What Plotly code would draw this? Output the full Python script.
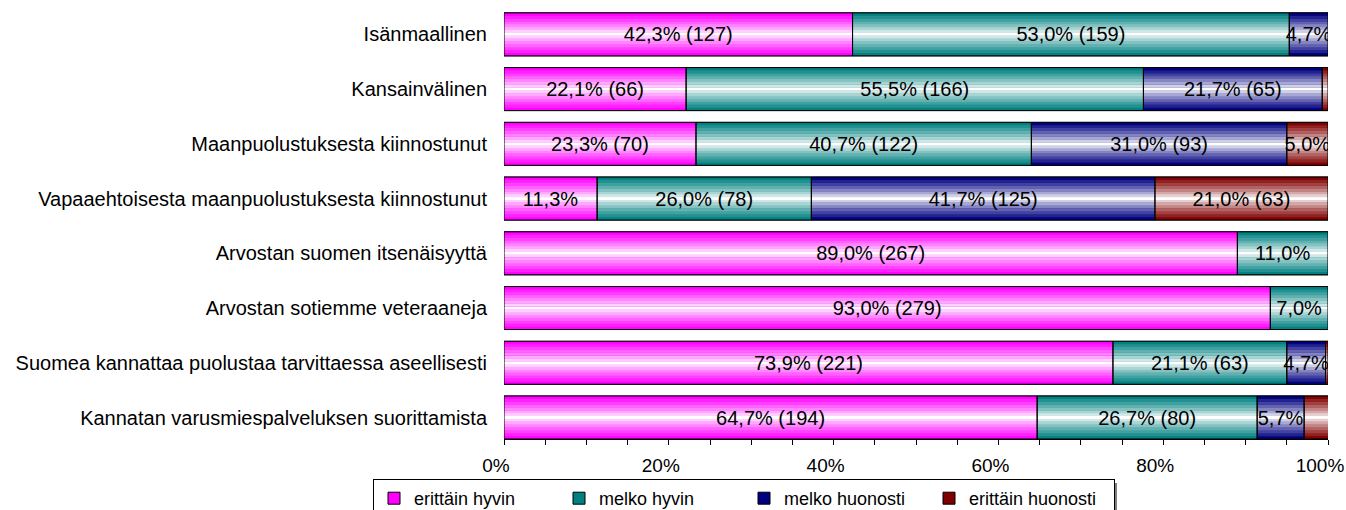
import plotly.graph_objects as go

# ---------------- data ----------------
categories = [
    "Isänmaallinen",
    "Kansainvälinen",
    "Maanpuolustuksesta kiinnostunut",
    "Vapaaehtoisesta maanpuolustuksesta kiinnostunut",
    "Arvostan suomen itsenäisyyttä",
    "Arvostan sotiemme veteraaneja",
    "Suomea kannattaa puolustaa tarvittaessa aseellisesti",
    "Kannatan varusmiespalveluksen suorittamista",
]
series_names = ["erittäin hyvin", "melko hyvin", "melko huonosti", "erittäin huonosti"]

erittain_hyvin_pct = [42.3, 22.1, 23.3, 11.3, 89.0, 93.0, 73.9, 64.7]
erittain_hyvin_n = [127, 66, 70, 34, 267, 279, 221, 194]
melko_hyvin_pct = [53.0, 55.5, 40.7, 26.0, 11.0, 7.0, 21.1, 26.7]
melko_hyvin_n = [159, 166, 122, 78, 33, 21, 63, 80]
melko_huonosti_pct = [4.7, 21.7, 31.0, 41.7, 0.0, 0.0, 4.7, 5.7]
melko_huonosti_n = [14, 65, 93, 125, 0, 0, 14, 17]
erittain_huonosti_pct = [0.0, 0.7, 5.0, 21.0, 0.0, 0.0, 0.3, 3.0]
erittain_huonosti_n = [0, 2, 15, 63, 0, 0, 1, 9]

x_tick_values = [0, 20, 40, 60, 80, 100]
x_tick_labels = ["0%", "20%", "40%", "60%", "80%", "100%"]

# ---------------- style ----------------
colors = ["#FF00FF", "#008080", "#000080", "#800000"]
FONT = "Liberation Sans, Arial, sans-serif"
BAR_W = 0.785
N_STRIPS = 15

W, H = 1346, 510
M_L, M_R, M_T, M_B = 504, 18, 7, 71

pcts = [erittain_hyvin_pct, melko_hyvin_pct, melko_huonosti_pct, erittain_huonosti_pct]
counts = [erittain_hyvin_n, melko_hyvin_n, melko_huonosti_n, erittain_huonosti_n]

n_cat = len(categories)
ypos = [n_cat - 1 - i for i in range(n_cat)]  # first category on top


def hex_rgb(h):
    h = h.lstrip("#")
    return tuple(int(h[i:i + 2], 16) for i in (0, 2, 4))


def shade(hexcol, f):
    r, g, b = hex_rgb(hexcol)
    return "rgb(%d,%d,%d)" % (
        round(255 + (r - 255) * f),
        round(255 + (g - 255) * f),
        round(255 + (b - 255) * f),
    )


def fmt_label(p, n):
    s = ("%.1f" % p).replace(".", ",") + "%"
    if p >= 20:
        return "%s (%d)" % (s, n)
    if p >= 4:
        return s
    return ""


# cumulative bases
bases = []
running = [0.0] * n_cat
for vals in pcts:
    bases.append(list(running))
    running = [running[i] + vals[i] for i in range(n_cat)]

fig = go.Figure()

# solid underlay (also provides legend entries)
for s, name in enumerate(series_names):
    xs = [v if v > 0 else None for v in pcts[s]]
    fig.add_trace(go.Bar(
        name=name, orientation="h", y=ypos, x=xs, base=bases[s],
        width=BAR_W, marker=dict(color=colors[s], line=dict(color="black", width=1)),
        hoverinfo="skip", showlegend=True,
    ))

# gradient strips
for s, name in enumerate(series_names):
    xs = [v if v > 0 else None for v in pcts[s]]
    for k in range(N_STRIPS):
        t = abs(2 * (k + 0.5) / N_STRIPS - 1)
        fig.add_trace(go.Bar(
            orientation="h", y=ypos, x=xs, base=bases[s],
            width=BAR_W / N_STRIPS + 0.004,
            offset=-BAR_W / 2 + k * BAR_W / N_STRIPS,
            marker=dict(color=shade(colors[s], min(1.0, t ** 0.85 * 1.05)), line=dict(width=0)),
            hoverinfo="skip", showlegend=False,
        ))

# outlines + labels
for s, name in enumerate(series_names):
    xs = [v if v > 0 else None for v in pcts[s]]
    labels = [fmt_label(p, n) for p, n in zip(pcts[s], counts[s])]
    fig.add_trace(go.Bar(
        orientation="h", y=ypos, x=xs, base=bases[s], width=BAR_W,
        marker=dict(color="rgba(0,0,0,0)", line=dict(color="black", width=1)),
        text=labels, textposition="inside", insidetextanchor="middle",
        constraintext="none", textangle=0,
        insidetextfont=dict(family=FONT, size=20, color="black"),
        hoverinfo="skip", showlegend=False,
    ))

# legend shadow (pixel positions converted to paper coordinates)
pw = W - M_L - M_R
ph = H - M_T - M_B


def px_x(px):
    return (px - M_L) / pw


def px_y(py):
    return (H - M_B - py) / ph


LEG_TOP = 479
fig.add_shape(
    type="rect", xref="paper", yref="paper",
    x0=px_x(377), x1=px_x(1117), y0=px_y(530), y1=px_y(LEG_TOP + 4),
    fillcolor="#7f7f7f", line=dict(width=0), layer="above",
)

fig.update_layout(
    width=W, height=H,
    barmode="overlay",
    paper_bgcolor="white", plot_bgcolor="white",
    margin=dict(l=M_L, r=M_R, t=M_T, b=M_B, autoexpand=False),
    font=dict(family=FONT, size=19, color="black"),
    showlegend=True,
    legend=dict(
        orientation="h", xref="container", yref="container",
        x=373 / W, y=1 - LEG_TOP / H, xanchor="left", yanchor="top",
        bordercolor="black", borderwidth=1, bgcolor="white",
        font=dict(family=FONT, size=18, color="black"),
        entrywidth=140, entrywidthmode="pixels", traceorder="normal",
    ),
    xaxis=dict(
        range=[0, 100], tickvals=x_tick_values, ticktext=x_tick_labels,
        ticks="outside", ticklen=5, tickcolor="black", tickwidth=1,
        minor=dict(dtick=5, ticks="outside", ticklen=5, tickcolor="black", tickwidth=1),
        showline=True, linecolor="black", linewidth=1,
        showgrid=False, zeroline=False, automargin=False,
        tickfont=dict(family=FONT, size=19, color="black"),
        ticklabelshift=-8, ticklabelstandoff=4,
    ),
    yaxis=dict(
        range=[-BAR_W / 2, n_cat - 0.5], tickvals=ypos, ticktext=categories,
        ticks="", showline=False, showgrid=False, zeroline=False, automargin=False,
        tickfont=dict(family=FONT, size=20, color="black"),
        ticklabelstandoff=16,
    ),
)

fig.write_html(
    "out.html",
    config={"displayModeBar": False},
    post_script="document.body.style.margin='0';document.body.style.overflow='hidden';",
)
